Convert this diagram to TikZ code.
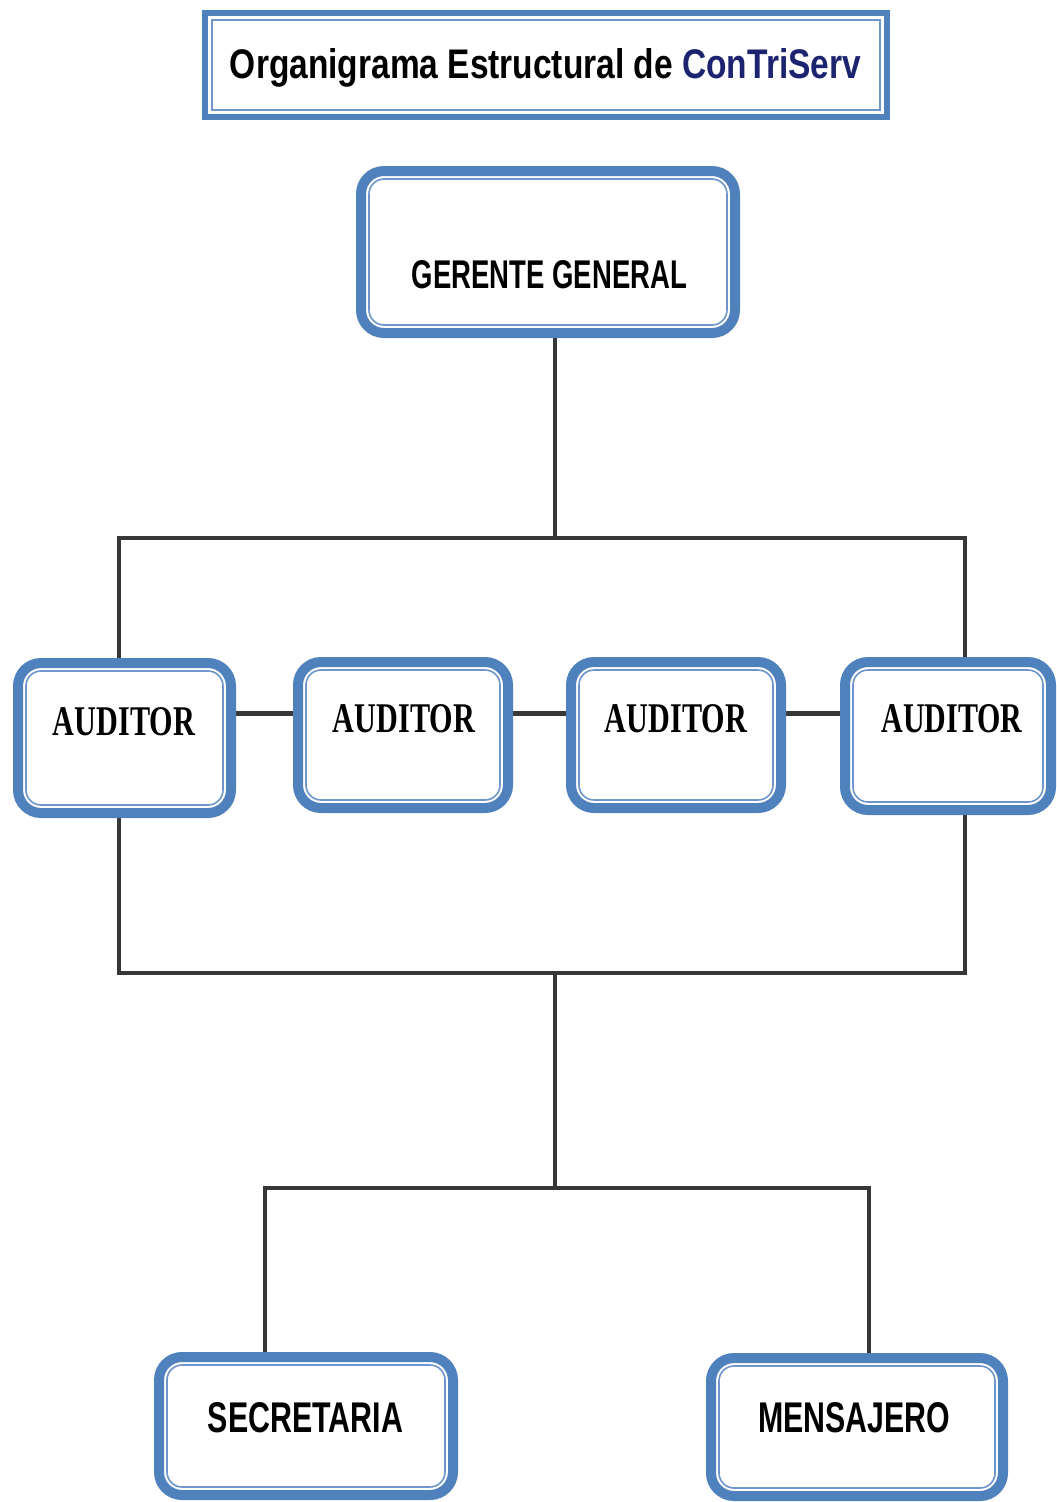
\documentclass[tikz,border=0pt]{standalone}
\usepackage{fontspec}
\usepackage{graphicx}
\setmainfont{Liberation Sans}
\newfontfamily\serifbold{Liberation Serif}
\definecolor{bxblue}{RGB}{79,129,189}
\definecolor{bxlight}{RGB}{110,150,205}
\definecolor{navy}{RGB}{28,36,112}
\definecolor{connc}{RGB}{55,55,55}
\pgfdeclarelayer{bg}
\pgfsetlayers{bg,main}
\newcommand\dbox[5]{%
  \node[obox, minimum width=#4, minimum height=#5] (#1) at (#2,#3) {};
  \draw[ibox] ([shift={(8,-8)}]#1.south west) rectangle ([shift={(-8,8)}]#1.north east);
}
\begin{document}
\begin{tikzpicture}[x=1pt,y=-1pt,
  obox/.style={draw=bxblue, line width=10pt, rounded corners=23pt, fill=white, inner sep=0pt, outer sep=0pt},
  ibox/.style={draw=bxlight, line width=1.6pt, rounded corners=15pt},
  tbox/.style={draw=bxblue, line width=6.5pt, fill=white, inner sep=0pt, outer sep=0pt},
  tin/.style={draw=bxlight, line width=1.3pt},
  conn/.style={draw=connc, line width=3.5pt},
  connb/.style={draw=connc, line width=5pt},
  lbl/.style={inner sep=0pt, outer sep=0pt, anchor=base},
  sanslbl/.style={lbl, font=\bfseries}
]
\useasboundingbox (0,0) rectangle (1057,1502);

% title
\node[tbox, minimum width=682, minimum height=104] (t) at (546,65) {};
\draw[tin] ([shift={(7,-7)}]t.south west) rectangle ([shift={(-7,7)}]t.north east);
\node[lbl] (tt) at (545.5,78) {\resizebox{631pt}{30pt}{\bfseries Organigrama Estructural de \textcolor{navy}{ConTriServ}}};

% boxes
\dbox{g}{548}{252}{374}{162}
\dbox{a1}{124.5}{738}{213}{150}
\dbox{a2}{403}{735}{210}{146}
\dbox{a3}{676}{735}{210}{146}
\dbox{a4}{948}{736}{206}{148}
\dbox{s}{306}{1426}{294}{138}
\dbox{m}{857}{1427}{292}{138}

% labels
\node[sanslbl] (gt) at (549.5,288) {\resizebox{275pt}{28pt}{GERENTE GENERAL}};
\node[lbl] (a1t) at (124,735) {\resizebox{142pt}{28pt}{\serifbold\bfseries AUDITOR}};
\node[lbl] (a2t) at (404,732) {\resizebox{142pt}{28pt}{\serifbold\bfseries AUDITOR}};
\node[lbl] (a3t) at (676,732) {\resizebox{142pt}{28pt}{\serifbold\bfseries AUDITOR}};
\node[lbl] (a4t) at (952,732) {\resizebox{141pt}{28pt}{\serifbold\bfseries AUDITOR}};
\node[sanslbl] (st) at (305.5,1432) {\resizebox{195pt}{30pt}{SECRETARIA}};
\node[sanslbl] (mt) at (854,1432) {\resizebox{192pt}{30pt}{MENSAJERO}};

% junctions
\coordinate (j1) at (555,538);
\coordinate (jl) at (119,538);
\coordinate (jr) at (965,538);
\coordinate (j2) at (555,973);
\coordinate (jl2) at (119,973);
\coordinate (jr2) at (965,973);
\coordinate (j3) at (555,1188);
\coordinate (js) at (265,1188);
\coordinate (jm) at (869,1188);
\coordinate (hy) at (0,713);

\begin{pgfonlayer}{bg}
\fill[white] (0,0) rectangle (1057,1502);
\draw[conn] (j1 |- g.center) -- (j1);
\draw[conn] (jl |- a1.center) -- (jl) -- (jr) -- (jr |- a4.center);
\draw[conn] (jl |- a1.center) -- (jl2) -- (jr2) -- (jr |- a4.center);
\draw[connb] (a1.center |- hy) -- (a2.center |- hy);
\draw[connb] (a2.center |- hy) -- (a3.center |- hy);
\draw[connb] (a3.center |- hy) -- (a4.center |- hy);
\draw[conn] (j2) -- (j3);
\draw[conn] (js |- s.center) -- (js) -- (jm) -- (jm |- m.center);
\end{pgfonlayer}
\end{tikzpicture}
\end{document}
